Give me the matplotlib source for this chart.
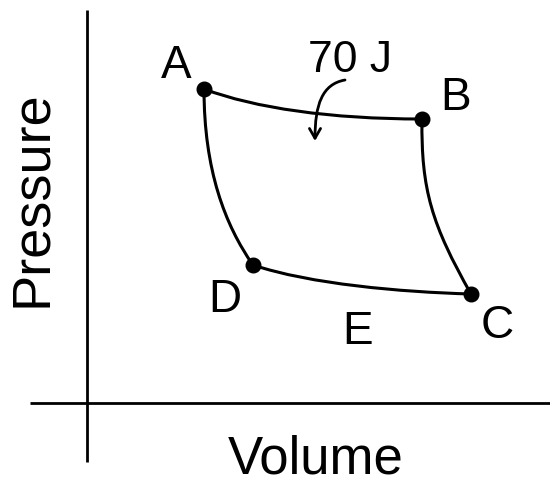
import matplotlib.pyplot as plt
from matplotlib.path import Path
from matplotlib.patches import PathPatch, FancyArrowPatch

plt.rcParams["font.family"] = ["Liberation Sans", "DejaVu Sans"]

# state points on the P-V diagram (figure units, y grows downward)
labels = ["A", "B", "C", "D"]
vol = [204, 422, 471, 253]
pres = [89, 119, 294, 265]

# label positions (baseline)
label_x = [176, 456, 497, 225, 358]
label_y = [78, 110, 338, 312, 344]
label_txt = ["A", "B", "C", "D", "E"]

# bezier control points for each process: A->B, B->C, C->D, D->A
ctrl = {
    "AB": [(255, 108), (330, 119)],
    "BC": [(421, 190), (432, 225)],
    "CD": [(400, 292), (310, 284)],
    "DA": [(225, 225), (204, 170)],
}

fig = plt.figure(figsize=(5.5, 4.84), dpi=100)
ax = fig.add_axes([0, 0, 1, 1])
ax.set_xlim(0, 550)
ax.set_ylim(484, 0)
ax.axis("off")

# axes
ax.plot([87, 87], [10, 462], color="black", lw=2.0, solid_capstyle="butt")
ax.plot([30, 550], [403, 403], color="black", lw=2.0, solid_capstyle="butt")

pts = dict(zip(labels, zip(vol, pres)))
for seg, (c1, c2) in ctrl.items():
    p0, p1 = pts[seg[0]], pts[seg[1]]
    path = Path([p0, c1, c2, p1], [Path.MOVETO, Path.CURVE4, Path.CURVE4, Path.CURVE4])
    ax.add_patch(PathPatch(path, fc="none", ec="black", lw=2.2))

ax.plot(vol, pres, "o", color="black", ms=10.5, zorder=3)

for x, y, t in zip(label_x, label_y, label_txt):
    ax.text(x, y, t, fontsize=33, ha="center", va="baseline")

ax.text(350, 72, "70 J", fontsize=32, ha="center", va="baseline")
arrow_path = Path([(345, 80), (322, 84), (315, 105), (315, 141)],
                  [Path.MOVETO, Path.CURVE4, Path.CURVE4, Path.CURVE4])
ax.add_patch(FancyArrowPatch(path=arrow_path, arrowstyle="->,head_length=7,head_width=4",
                             color="black", lw=2.0))

ax.text(316, 474, "Volume", fontsize=38, ha="center", va="baseline")
ax.text(32, 199, "Pressure", fontsize=39, ha="center", va="center", rotation=90)

fig.savefig("out.png", dpi=100, facecolor="white")
